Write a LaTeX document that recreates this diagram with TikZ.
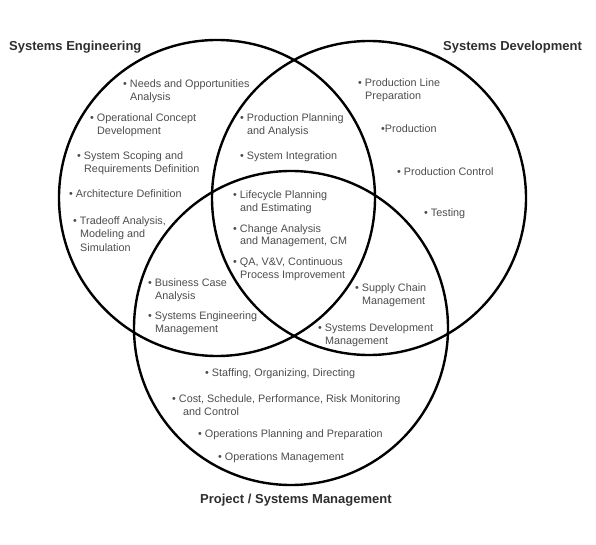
\documentclass[tikz,border=0pt]{standalone}
\usepackage{fontspec}
\setmainfont{Liberation Sans}
\begin{document}
\begin{tikzpicture}[x=1pt,y=-1pt,
  ring/.style={draw=black,line width=2.4pt},
  item/.style={anchor=base west,inner sep=0pt,text=black!70,
    font=\fontsize{10.8}{13}\selectfont},
  title/.style={anchor=base west,inner sep=0pt,text=black!82,
    font=\fontsize{13}{15}\selectfont\bfseries}]
\newcommand\bl[1]{\begin{tabular}[t]{@{}l@{}}#1\end{tabular}}
\newcommand\cnt{\hspace*{7pt}}
\useasboundingbox (0,0) rectangle (596,545);
% circles
\coordinate (se) at (217,198);
\coordinate (sd) at (369,198);
\coordinate (pm) at (291,328);
\draw[ring] (se) circle (158);
\draw[ring] (sd) circle (157);
\draw[ring] (pm) circle (157);
% titles
\node[title] (tSE) at (9,51) {Systems Engineering};
\node[title] (tSD) at (443,51) {Systems Development};
\node[title] (tPM) at (200,503) {Project / Systems Management};
% Systems Engineering only
\node[item] (i1) at (123,88) {\bl{\textbullet\ Needs and Opportunities\\\cnt Analysis}};
\node[item] (i2) at (90,122) {\bl{\textbullet\ Operational Concept\\\cnt Development}};
\node[item] (i3) at (77,160) {\bl{\textbullet\ System Scoping and\\\cnt Requirements Definition}};
\node[item] (i4) at (69,198) {\bl{\textbullet\ Architecture Definition}};
\node[item] (i5) at (73,225) {\bl{\textbullet\ Tradeoff Analysis,\\\cnt Modeling and\\\cnt Simulation}};
% SE & SD
\node[item] (i6) at (240,122) {\bl{\textbullet\ Production Planning\\\cnt and Analysis}};
\node[item] (i7) at (240,160) {\bl{\textbullet\ System Integration}};
% all three
\node[item] (i8) at (233,199) {\bl{\textbullet\ Lifecycle Planning\\\cnt and Estimating}};
\node[item] (i9) at (233,232) {\bl{\textbullet\ Change Analysis\\\cnt and Management, CM}};
\node[item] (i10) at (233,265) {\bl{\textbullet\ QA, V\&V, Continuous\\\cnt Process Improvement}};
% SE & PM
\node[item] (i11) at (148,286) {\bl{\textbullet\ Business Case\\\cnt Analysis}};
\node[item] (i12) at (148,319) {\bl{\textbullet\ Systems Engineering\\\cnt Management}};
% SD & PM
\node[item] (i13) at (355,291) {\bl{\textbullet\ Supply Chain\\\cnt Management}};
\node[item] (i14) at (318,331) {\bl{\textbullet\ Systems Development\\\cnt Management}};
% PM only
\node[item] (i15) at (205,376) {\bl{\textbullet\ Staffing, Organizing, Directing}};
\node[item] (i16) at (172,402) {\bl{\textbullet\ Cost, Schedule, Performance, Risk Monitoring\\\hspace*{11pt}and Control}};
\node[item] (i17) at (198,437) {\bl{\textbullet\ Operations Planning and Preparation}};
\node[item] (i18) at (218,460) {\bl{\textbullet\ Operations Management}};
% SD only
\node[item] (i19) at (358,87) {\bl{\textbullet\ Production Line\\\cnt Preparation}};
\node[item] (i20) at (381,133) {\bl{\textbullet Production}};
\node[item] (i21) at (397,176) {\bl{\textbullet\ Production Control}};
\node[item] (i22) at (424,216) {\bl{\textbullet\ Testing}};
\end{tikzpicture}
\end{document}
